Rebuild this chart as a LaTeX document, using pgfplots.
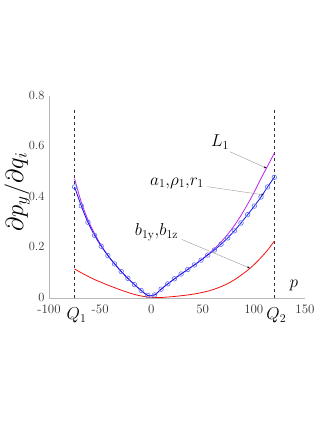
\documentclass[border=0pt]{standalone}
\usepackage{pgfplots}
\pgfplotsset{compat=1.18}
\usetikzlibrary{arrows.meta}
\definecolor{curveA}{HTML}{1010F0}
\definecolor{curveL}{HTML}{C020F0}
\definecolor{curveB}{HTML}{F01010}
\definecolor{markA}{HTML}{5A70F0}

\begin{document}
\begin{tikzpicture}
\path[use as bounding box] (-49bp,-125bp) rectangle (278bp,298bp);
\begin{axis}[
  at={(0,0)},anchor=south west,
  scale only axis,width=256bp,height=202bp,
  xmin=-100,xmax=150,ymin=0,ymax=0.8,
  enlargelimits=false,clip=false,
  axis lines=left,
  axis line style={gray!55,-},
  xtick={-100,-50,0,50,100,150},
  xticklabels={-100,-50,0,50,100,150},
  ytick={0,0.2,0.4,0.6,0.8},
  yticklabels={0,0.2,0.4,0.6,0.8},
  major tick length=0pt,
  tick label style={text=black!80},
  xticklabel style={font=\fontsize{13}{15}\selectfont,yshift=-3.5pt},
  yticklabel style={font=\fontsize{12.5}{15}\selectfont,xshift=-1pt,yshift=1pt},
]
% Q1, Q2 limits
\addplot[black!80,dashed,thin] coordinates {(-75,0) (-75,0.745)};
\addplot[black!80,dashed,thin] coordinates {(120,0) (120,0.745)};
% b_1y, b_1z
\addplot[curveB,thick,smooth] coordinates {
  (-75,0.115) (-68.5,0.100) (-62,0.086) (-55.5,0.073) (-49,0.062) (-42.5,0.051)
  (-36,0.041) (-29.5,0.031) (-23,0.022) (-16.5,0.014) (-10,0.008) (-3.5,0.004)
  (3,0.002) (9.5,0.002) (16,0.004) (22.5,0.006) (29,0.009) (35.5,0.012)
  (42,0.016) (48.5,0.021) (55,0.027) (61.5,0.035) (68,0.045) (74.5,0.057)
  (81,0.072) (87.5,0.090) (94,0.110) (100.5,0.133) (107,0.160) (113.5,0.190)
  (120,0.225)};
% L_1
\addplot[curveL,thick,smooth] coordinates {
  (-75,0.472) (-68.5,0.380) (-62,0.310) (-55.5,0.255) (-49,0.208) (-42.5,0.169)
  (-36,0.136) (-29.5,0.105) (-23,0.078) (-16.5,0.053) (-10,0.030) (-3.5,0.010)
  (3,0.012) (9.5,0.035) (16,0.056) (22.5,0.076) (29,0.095) (35.5,0.113)
  (42,0.131) (48.5,0.151) (55,0.172) (61.5,0.195) (68,0.222) (74.5,0.252)
  (81,0.287) (87.5,0.327) (94,0.372) (100.5,0.420) (107,0.473) (113.5,0.523)
  (120,0.573)};
% a_1, rho_1, r_1
\addplot[curveA,thick,smooth,mark=o,mark size=2.3pt,
  mark options={markA,semithick,solid}] coordinates {
  (-75,0.440) (-68.5,0.365) (-62,0.300) (-55.5,0.248) (-49,0.205) (-42.5,0.168)
  (-36,0.135) (-29.5,0.105) (-23,0.078) (-16.5,0.053) (-10,0.030) (-3.5,0.010)
  (3,0.012) (9.5,0.035) (16,0.056) (22.5,0.076) (29,0.095) (35.5,0.113)
  (42,0.131) (48.5,0.150) (55,0.170) (61.5,0.190) (68,0.213) (74.5,0.238)
  (81,0.266) (87.5,0.297) (94,0.330) (100.5,0.364) (107,0.400) (113.5,0.440)
  (120,0.478)};
% labels
\node[rotate=90,font=\fontsize{25}{30}\selectfont] at (axis cs:-131,0.42) {$\partial p_y/\partial q_i$};
\node[font=\fontsize{18}{21}\selectfont] at (axis cs:139,0.05) {$p$};
\node[anchor=north,font=\fontsize{18}{21}\selectfont,xshift=2pt] at (axis cs:-75,-0.025) {$Q_1$};
\node[anchor=north,font=\fontsize{18}{21}\selectfont,xshift=2pt] at (axis cs:120,-0.025) {$Q_2$};
\node[font=\fontsize{18}{21}\selectfont] at (axis cs:67,0.618) {$L_1$};
\node[font=\fontsize{18}{21}\selectfont] at (axis cs:25,0.455) {$a_1{,}\rho_1{,}r_1$};
\node[font=\fontsize{18}{21}\selectfont] at (axis cs:5,0.261) {$b_{\mathrm{1y}}{,}b_{\mathrm{1z}}$};
\draw[gray!80,-{Stealth[black,length=3pt,width=2pt]}] (axis cs:76.8,0.579) -- (axis cs:112.6,0.514);
\draw[gray!80,-{Stealth[black,length=3pt,width=2pt]}] (axis cs:54.6,0.441) -- (axis cs:110,0.408);
\draw[gray!80,-{Stealth[black,length=3pt,width=2pt]}] (axis cs:29.6,0.232) -- (axis cs:96.3,0.118);
\end{axis}
\end{tikzpicture}
\end{document}
